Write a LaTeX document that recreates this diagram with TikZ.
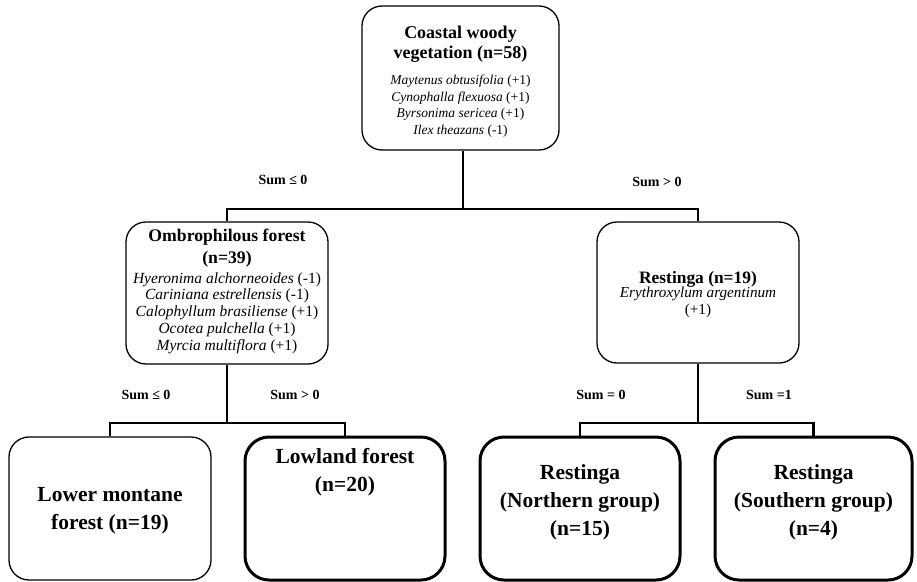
\documentclass[tikz,border=0pt]{standalone}
\usepackage{fontspec}
\setmainfont{Liberation Serif}
\begin{document}
\begin{tikzpicture}[x=1pt,y=-1pt,
  thinbox/.style={draw, line width=1.3pt, rounded corners=20pt, inner sep=0pt},
  thickbox/.style={draw, line width=3pt, rounded corners=24pt, inner sep=0pt},
  conn/.style={draw, line width=2.7pt, line join=miter},
  txt/.style={align=center, inner sep=0pt},
  sumlabel/.style={inner sep=0pt, font=\fontsize{14}{16}\selectfont\bfseries},
  bigtxt/.style={txt, font=\fontsize{21.5}{28}\selectfont\bfseries}]
\useasboundingbox (0,0) rectangle (917,581);

% boxes
\node[thinbox, minimum width=197pt, minimum height=144pt] (top) at (460.5,78) {};
\node[thinbox, minimum width=202pt, minimum height=142pt] (omb) at (227,293) {};
\node[thinbox, minimum width=202pt, minimum height=141pt] (rest) at (698,292.5) {};
\node[thinbox, minimum width=202pt, minimum height=143pt] (lm) at (110,508.5) {};
\node[thickbox, minimum width=200pt, minimum height=143pt] (lw) at (345,508.5) {};
\node[thickbox, minimum width=200pt, minimum height=143pt] (rn) at (580,508.5) {};
\node[thickbox, minimum width=197pt, minimum height=143pt] (rs) at (813.5,508.5) {};

% texts in boxes
\node[txt, font=\fontsize{18}{20}\selectfont\bfseries] (toptitle) at (460.5,44) {Coastal woody\\vegetation (n=58)};
\node[txt, font=\fontsize{13.5}{16.5}\selectfont] (toplist) at (460.5,106)
  {\textit{Maytenus obtusifolia} (+1)\\\textit{Cynophalla flexuosa} (+1)\\\textit{Byrsonima sericea} (+1)\\\textit{Ilex theazans} (-1)};

\node[txt, font=\fontsize{17.7}{22}\selectfont\bfseries] (ombtitle) at (227,248) {Ombrophilous forest\\(n=39)};
\node[txt, font=\fontsize{15.5}{16.8}\selectfont] (omblist) at (227,313)
  {\textit{Hyeronima alchorneoides} (-1)\\\textit{Cariniana estrellensis} (-1)\\\textit{Calophyllum brasiliense} (+1)\\\textit{Ocotea pulchella} (+1)\\\textit{Myrcia multiflora} (+1)};

\node[txt, font=\fontsize{17.4}{20}\selectfont\bfseries] (resttitle) at (698,279) {Restinga (n=19)};
\node[txt, font=\fontsize{15.2}{17}\selectfont] (restlist) at (698,302) {\textit{Erythroxylum argentinum}\\(+1)};

\node[bigtxt] (lmtxt) at (110,511) {Lower montane\\forest (n=19)};
\node[bigtxt] (lwtxt) at (345,472) {Lowland forest\\(n=20)};
\node[bigtxt] (rntxt) at (580,502) {Restinga\\(Northern group)\\(n=15)};
\node[bigtxt] (rstxt) at (813.5,502) {Restinga\\(Southern group)\\(n=4)};

% connectors
\coordinate (j1) at (463,209);
\coordinate (j2) at (227,423);
\coordinate (j3) at (698,423);
\draw[conn] (top.south -| j1) -- (j1);
\draw[conn] (omb.north) |- (j1) -| (rest.north);
\draw[conn] (omb.south) -- (j2);
\draw[conn] (lm.north) |- (j2) -| (lw.north);
\draw[conn] (rest.south) -- (j3);
\draw[conn] (rn.north) |- (j3) -| (rs.north);

% labels
\node[sumlabel] (s1) at (283,180) {Sum ≤ 0};
\node[sumlabel] (s2) at (657,182) {Sum > 0};
\node[sumlabel] (s3) at (146,395) {Sum ≤ 0};
\node[sumlabel] (s4) at (295,395) {Sum > 0};
\node[sumlabel] (s5) at (601,395) {Sum = 0};
\node[sumlabel] (s6) at (769,395) {Sum =1};
\end{tikzpicture}
\end{document}
